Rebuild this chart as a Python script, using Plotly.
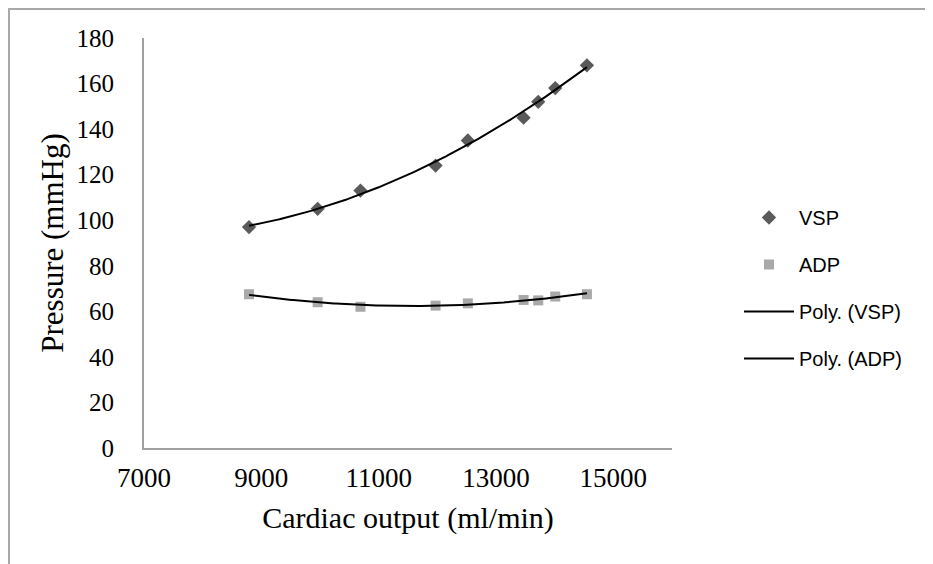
import numpy as np
import plotly.graph_objects as go

# Data
cardiac_output = [8790, 9960, 10690, 11970, 12520, 13470, 13720, 14010, 14550]
vsp = [97, 105, 113, 124, 135, 145, 152, 158, 168]
adp = [67.5, 64, 62, 62.5, 63.5, 65, 64.8, 66.5, 67.5]

x_ticks = [7000, 9000, 11000, 13000, 15000]
y_ticks = [0, 20, 40, 60, 80, 100, 120, 140, 160, 180]

x_arr = np.array(cardiac_output, dtype=float)
# Excel-style polynomial (order 2) trendlines fitted to the data
x_fit = np.linspace(x_arr.min(), x_arr.max(), 200)
vsp_fit = np.polyval(np.polyfit(x_arr, vsp, 2), x_fit)
adp_fit = np.polyval(np.polyfit(x_arr, adp, 2), x_fit)

legend_font = dict(family="Liberation Sans", size=20, color="black")
serif = "Liberation Serif"

fig = go.Figure()
fig.add_trace(go.Scatter(x=cardiac_output, y=vsp, mode="markers", name="VSP",
                         legendgroup="a",
                         marker=dict(symbol="diamond", size=11, color="#5a5a5a")))
fig.add_trace(go.Scatter(x=cardiac_output, y=adp, mode="markers", name="ADP",
                         legendgroup="b",
                         marker=dict(symbol="square", size=10, color="#a9a9a9")))
fig.add_trace(go.Scatter(x=x_fit, y=vsp_fit, mode="lines", name="Poly. (VSP)",
                         legendgroup="c",
                         line=dict(color="black", width=2)))
fig.add_trace(go.Scatter(x=x_fit, y=adp_fit, mode="lines", name="Poly. (ADP)",
                         legendgroup="d",
                         line=dict(color="black", width=2)))

# the page body adds an 8px offset; figure is sized to fill the rest of the window
OFF = 8
W, H = 933 - OFF, 564 - OFF
L, T = 144 - OFF, 38 - OFF
R = W - (672 - OFF)
B = H - (448 - OFF)
pw, ph = W - L - R, H - T - B

def px_x(p):  # screen pixel -> paper x
    return (p - OFF - L) / pw

def px_y(p):  # screen pixel -> paper y
    return (H - B - (p - OFF)) / ph

fig.update_layout(
    width=W, height=H,
    margin=dict(l=L, r=R, t=T, b=B, autoexpand=False),
    paper_bgcolor="white", plot_bgcolor="white",
    showlegend=True,
    legend=dict(x=px_x(739), y=px_y(198), xanchor="left", yanchor="top",
                font=legend_font, tracegroupgap=18, itemwidth=50,
                bgcolor="rgba(0,0,0,0)"),
    xaxis=dict(range=[7000, 16000], tickvals=x_ticks, ticktext=[str(v) for v in x_ticks],
               showgrid=False, zeroline=False, showline=True, linecolor="#a0a0a0", linewidth=2,
               ticks="", tickfont=dict(family=serif, size=27, color="black"),
               ticklabelstandoff=5, automargin=False,
               title=dict(text="Cardiac output (ml/min)", font=dict(family=serif, size=30, color="black"),
                          standoff=15)),
    yaxis=dict(range=[0, 180], tickvals=y_ticks, ticktext=[str(v) for v in y_ticks],
               showgrid=False, zeroline=False, showline=True, linecolor="#a0a0a0", linewidth=2,
               ticks="", tickfont=dict(family=serif, size=25, color="black"),
               ticklabelstandoff=23, automargin=False,
               title=dict(text="Pressure (mmHg)", font=dict(family=serif, size=31, color="black"),
                          standoff=4)),
    shapes=[
        dict(type="line", xref="paper", yref="paper", x0=px_x(8), x1=px_x(940), y0=px_y(9), y1=px_y(9),
             line=dict(color="#a8a8a8", width=2)),
        dict(type="line", xref="paper", yref="paper", x0=px_x(9), x1=px_x(9), y0=px_y(8), y1=px_y(570),
             line=dict(color="#a8a8a8", width=2)),
    ],
)

fig.write_html("out.html")
